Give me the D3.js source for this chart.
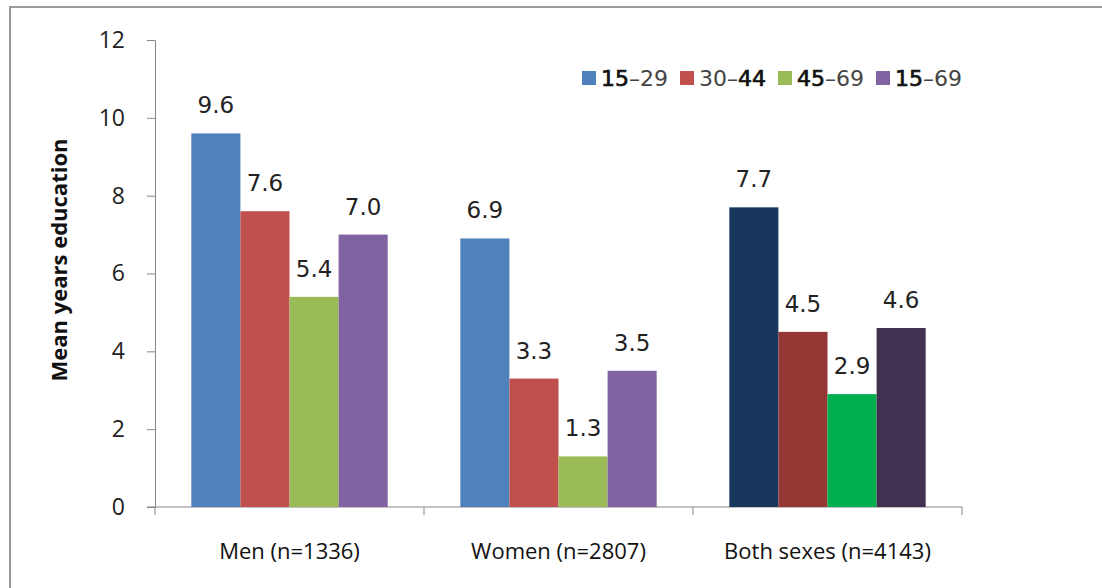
<!DOCTYPE html>
<html>
<head>
<meta charset="utf-8">
<script src="https://cdn.jsdelivr.net/npm/d3@7"></script>
<style>
  body { margin: 0; background: #fff; }
  svg { display: block; }
</style>
</head>
<body>
<div id="chart"></div>
<script>
// size of the page
var w = 1102;
var h = 588;

// data
var categories = ['Men (n=1336)', 'Women (n=2807)', 'Both sexes (n=4143)'];
var ageGroups = ['15–29', '30–44', '45–69', '15–69'];
var men = [9.6, 7.6, 5.4, 7.0];
var women = [6.9, 3.3, 1.3, 3.5];
var both = [7.7, 4.5, 2.9, 4.6];
var yTicks = [0, 2, 4, 6, 8, 10, 12];

// the legend has odd heavier pieces in it, kept as [text, heavy] chunks
var legendChunks = [
  [['15', true], ['–29', false]],
  [['30–', false], ['44', true]],
  [['45', true], ['–69', false]],
  [['15', true], ['–69', false]]
];

var colors = ['#4F81BD', '#C0504D', '#9BBB59', '#8064A2'];
var darkColors = ['#17375E', '#953735', '#00B050', '#403151'];

var series = [men, women, both];

var margin = {left: 155, right: 140, top: 40, bottom: 81};

var svg = d3.select('#chart').append('svg')
  .attr('width', w)
  .attr('height', h);

// frame lines (left and top only show)
svg.append('path')
  .attr('d', 'M10,' + h + 'V7H' + w)
  .attr('fill', 'none')
  .attr('stroke', '#9a9a9a')
  .attr('stroke-width', 2);

var x0 = d3.scaleBand()
  .domain(categories)
  .range([margin.left, w - margin.right])
  .paddingInner(0.27)
  .paddingOuter(0.135);

var x1 = d3.scaleBand()
  .domain(ageGroups)
  .range([0, x0.bandwidth()]);

var y = d3.scaleLinear()
  .domain([0, 12])
  .range([h - margin.bottom, margin.top]);

// y axis
var yAxis = svg.append('g')
  .attr('transform', 'translate(' + margin.left + ',0)')
  .call(d3.axisLeft(y).tickValues(yTicks).tickSize(8).tickPadding(22).tickSizeOuter(0));
yAxis.select('.domain').attr('stroke', '#868686');
yAxis.selectAll('.tick line').attr('stroke', '#868686');
yAxis.selectAll('.tick text')
  .attr('font-family', 'Open Sans')
  .attr('font-size', 23)
  .attr('fill', '#222');

// x axis, ticks between the groups
var xAxis = svg.append('g')
  .attr('transform', 'translate(0,' + y(0) + ')');
xAxis.append('line')
  .attr('x1', margin.left - 8).attr('x2', w - margin.right)
  .attr('stroke', '#868686');
var edges = [margin.left].concat(categories.map(function(c) {
  return x0(c) + x0.bandwidth() + x0.step() * x0.paddingInner() / 2;
}));
edges[edges.length - 1] = w - margin.right;
xAxis.selectAll('.edge').data(edges).enter().append('line')
  .attr('x1', function(d) { return d; })
  .attr('x2', function(d) { return d; })
  .attr('y1', 0).attr('y2', 8)
  .attr('stroke', '#868686');

xAxis.selectAll('.cat').data(categories).enter().append('text')
  .attr('x', function(d) { return x0(d) + x0.bandwidth() / 2; })
  .attr('y', 52)
  .attr('text-anchor', 'middle')
  .attr('font-family', 'Open Sans')
  .attr('font-size', 22)
  .attr('fill', '#111')
  .text(function(d) { return d; });

// bars
var groups = svg.selectAll('.group')
  .data(categories)
  .enter().append('g')
  .attr('transform', function(d) { return 'translate(' + x0(d) + ',0)'; });

groups.each(function(cat, ci) {
  var g = d3.select(this);
  var vals = series[ci];
  var pal = ci === 2 ? darkColors : colors;
  g.selectAll('rect').data(vals).enter().append('rect')
    .attr('x', function(d, i) { return x1(ageGroups[i]); })
    .attr('y', function(d) { return y(d); })
    .attr('width', x1.bandwidth())
    .attr('height', function(d) { return y(0) - y(d); })
    .attr('fill', function(d, i) { return pal[i]; });
  g.selectAll('text').data(vals).enter().append('text')
    .attr('x', function(d, i) { return x1(ageGroups[i]) + x1.bandwidth() / 2; })
    .attr('y', function(d) { return y(d) - 20; })
    .attr('text-anchor', 'middle')
    .attr('font-family', 'DejaVu Sans')
    .attr('font-size', 23)
    .attr('fill', '#222')
    .text(function(d) { return d.toFixed(1); });
});

// y title
svg.append('text')
  .attr('transform', 'translate(67,260) rotate(-90)')
  .attr('text-anchor', 'middle')
  .attr('font-family', 'Open Sans')
  .attr('font-weight', 'bold')
  .attr('font-size', 22)
  .attr('fill', '#111')
  .text('Mean years education');

// legend
var legendX = [582, 680, 778, 876];
var legend = svg.selectAll('.legend')
  .data(ageGroups)
  .enter().append('g')
  .attr('transform', function(d, i) { return 'translate(' + legendX[i] + ',78)'; });
legend.append('rect')
  .attr('x', 0).attr('y', -7)
  .attr('width', 14).attr('height', 14)
  .attr('fill', function(d, i) { return colors[i]; });
legend.append('text')
  .attr('x', 19)
  .attr('y', 8)
  .attr('font-family', 'DejaVu Sans')
  .attr('font-size', 22)
  .attr('fill', '#444')
  .each(function(d, i) {
    var t = d3.select(this);
    legendChunks[i].forEach(function(c) {
      t.append('tspan')
        .attr('fill', c[1] ? '#111' : '#444')
        .attr('stroke', c[1] ? '#111' : 'none')
        .attr('stroke-width', c[1] ? 0.7 : 0)
        .text(c[0]);
    });
  });
</script>
</body>
</html>
